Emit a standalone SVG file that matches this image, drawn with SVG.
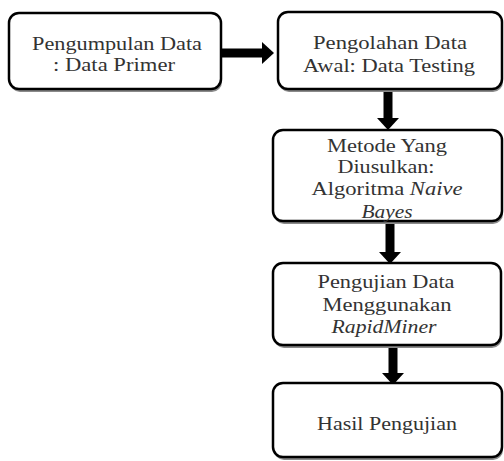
<svg xmlns="http://www.w3.org/2000/svg" width="504" height="461" viewBox="0 0 504 461">
<style>
.box{fill:#fff;stroke:#000;stroke-width:2.5}
.sh{fill:#8a8a8a}
.t{font-family:"Liberation Serif","Times New Roman",serif;font-size:19px;fill:#333;text-anchor:middle}
.i{font-style:italic}
.c{stroke:#000;stroke-width:9;fill:none}
</style>
<defs>
<marker id="ah" markerUnits="userSpaceOnUse" markerWidth="12" markerHeight="22" refX="0" refY="11" orient="auto">
<path d="M0,0 L12,11 L0,22 z" fill="#000"/>
</marker>
</defs>
<rect width="504" height="461" fill="#fff"/>
<g id="connectors">
<line class="c" x1="221" y1="53" x2="262" y2="53" marker-end="url(#ah)"/>
<line class="c" x1="388" y1="90" x2="388" y2="118" marker-end="url(#ah)"/>
<line class="c" x1="390" y1="222" x2="390" y2="252" marker-end="url(#ah)"/>
<line class="c" x1="393" y1="345" x2="393" y2="373" marker-end="url(#ah)"/>
</g>
<g id="n1">
<rect class="sh" x="10" y="16" width="212" height="76" rx="10"/>
<rect class="box" x="9" y="13" width="212" height="76" rx="10"/>
<text class="t" x="117" y="50" textLength="170" lengthAdjust="spacingAndGlyphs">Pengumpulan Data</text>
<text class="t" x="114" y="71" textLength="122" lengthAdjust="spacingAndGlyphs">: Data Primer</text>
</g>
<g id="n2">
<rect class="sh" x="279" y="15" width="224" height="77" rx="10"/>
<rect class="box" x="278" y="12" width="224" height="77" rx="10"/>
<text class="t" x="390" y="49" textLength="154" lengthAdjust="spacingAndGlyphs">Pengolahan Data</text>
<text class="t" x="389" y="72" textLength="172" lengthAdjust="spacingAndGlyphs">Awal: Data Testing</text>
</g>
<g id="n3">
<rect class="sh" x="274" y="133" width="229" height="91" rx="10"/>
<rect class="box" x="273" y="130" width="229" height="91" rx="10"/>
<text class="t" x="387" y="152" textLength="120" lengthAdjust="spacingAndGlyphs">Metode Yang</text>
<text class="t" x="386" y="173" textLength="97" lengthAdjust="spacingAndGlyphs">Diusulkan:</text>
<text class="t" x="387" y="195" textLength="151" lengthAdjust="spacingAndGlyphs">Algoritma <tspan class="i">Naive</tspan></text>
<text class="t i" x="387" y="218" textLength="51" lengthAdjust="spacingAndGlyphs">Bayes</text>
</g>
<g id="n4">
<rect class="sh" x="274" y="266" width="228" height="82" rx="10"/>
<rect class="box" x="273" y="263" width="228" height="82" rx="10"/>
<text class="t" x="386" y="288" textLength="137" lengthAdjust="spacingAndGlyphs">Pengujian Data</text>
<text class="t" x="387" y="311" textLength="129" lengthAdjust="spacingAndGlyphs">Menggunakan</text>
<text class="t i" x="384" y="333" textLength="105" lengthAdjust="spacingAndGlyphs">RapidMiner</text>
</g>
<g id="n5">
<rect class="sh" x="274" y="386" width="229" height="74" rx="10"/>
<rect class="box" x="273" y="383" width="229" height="74" rx="10"/>
<text class="t" x="387" y="430" textLength="140" lengthAdjust="spacingAndGlyphs">Hasil Pengujian</text>
</g>
</svg>
